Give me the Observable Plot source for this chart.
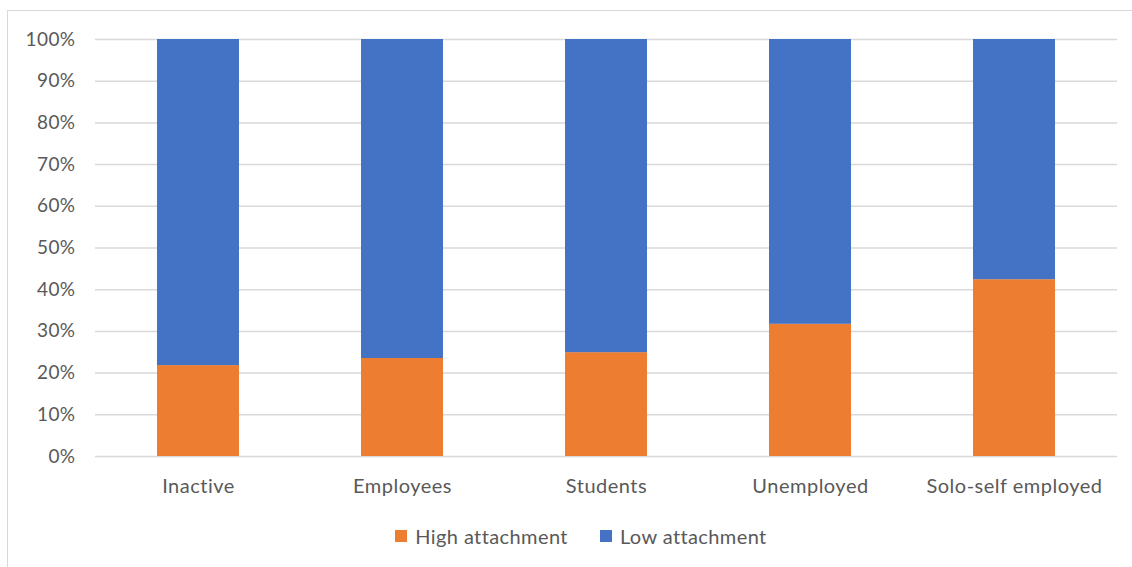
<!DOCTYPE html>
<html>
<head>
<meta charset="utf-8">
<script src="https://cdn.jsdelivr.net/npm/d3@7"></script>
<script src="https://cdn.jsdelivr.net/npm/@observablehq/plot@0.6"></script>
<style>
  html, body { margin: 0; padding: 0; background: #fff; overflow: hidden; }
  #frame { position: absolute; left: 7px; top: 10px; width: 1140px; height: 570px;
           border-left: 1.5px solid #d9d9d9; border-top: 1.5px solid #d9d9d9; }
  #chart { position: absolute; left: 0; top: 0; }
  #chart g[aria-label="x-axis tick label"] text { letter-spacing: 0.5px; }
  #chart g[aria-label="y-axis tick label"] text { letter-spacing: 0.4px; }
  #legend { position: absolute; left: 0; top: 510px; width: 1132px; height: 52px;
            display: flex; justify-content: center; align-items: center; gap: 32px;
            font-family: Lato, "Open Sans", sans-serif; font-size: 20px; letter-spacing: 0.4px; color: #595959; padding-left: 30px; box-sizing: border-box; }
  .item { display: flex; align-items: center; gap: 8px; }
  .sw { width: 12px; height: 12px; display: inline-block; }
</style>
</head>
<body>
<div id="frame"></div>
<div id="chart"></div>
<div id="legend"></div>
<script>
const categories = ["Inactive", "Employees", "Students", "Unemployed", "Solo-self employed"];
const highAttachment = [0.218, 0.235, 0.249, 0.317, 0.424];
const lowAttachment = [0.782, 0.765, 0.751, 0.683, 0.576];
const seriesNames = ["High attachment", "Low attachment"];
const seriesColors = ["#ED7D31", "#4472C4"];
const yTicks = [0, 0.1, 0.2, 0.3, 0.4, 0.5, 0.6, 0.7, 0.8, 0.9, 1.0];

const data = [];
categories.forEach((c, i) => {
  data.push({category: c, series: seriesNames[0], value: highAttachment[i]});
  data.push({category: c, series: seriesNames[1], value: lowAttachment[i]});
});

const chart = Plot.plot({
  width: 1132,
  height: 510,
  marginLeft: 95,
  marginRight: 15,
  marginTop: 39,
  marginBottom: 54,
  style: {fontFamily: 'Lato, "Open Sans", sans-serif', fontSize: "19px", color: "#595959", background: "transparent"},
  x: {domain: categories, paddingInner: 0.6, paddingOuter: 0.3, label: null, tickSize: 0, tickPadding: 22},
  y: {domain: [0, 1], ticks: yTicks, tickFormat: d => Math.round(d * 100) + "%", label: null, tickSize: 0, tickPadding: 20},
  color: {domain: seriesNames, range: seriesColors},
  marks: [
    Plot.gridY(yTicks, {stroke: "#d9d9d9", strokeOpacity: 1, strokeWidth: 1.5}),
    Plot.barY(data, {x: "category", y: "value", fill: "series", order: seriesNames, inset: 0}),
    Plot.axisX({tickSize: 0, tickPadding: 22, label: null, fill: "#595959", fontSize: 20}),
    Plot.axisY({ticks: yTicks, tickSize: 0, tickPadding: 20, tickFormat: d => Math.round(d * 100) + "%", label: null, fill: "#595959"})
  ]
});
document.getElementById("chart").appendChild(chart);

const legend = document.getElementById("legend");
seriesNames.forEach((name, i) => {
  const item = document.createElement("span");
  item.className = "item";
  const sw = document.createElement("span");
  sw.className = "sw";
  sw.style.background = seriesColors[i];
  const t = document.createElement("span");
  t.textContent = name;
  item.appendChild(sw);
  item.appendChild(t);
  legend.appendChild(item);
});
</script>
</body>
</html>
